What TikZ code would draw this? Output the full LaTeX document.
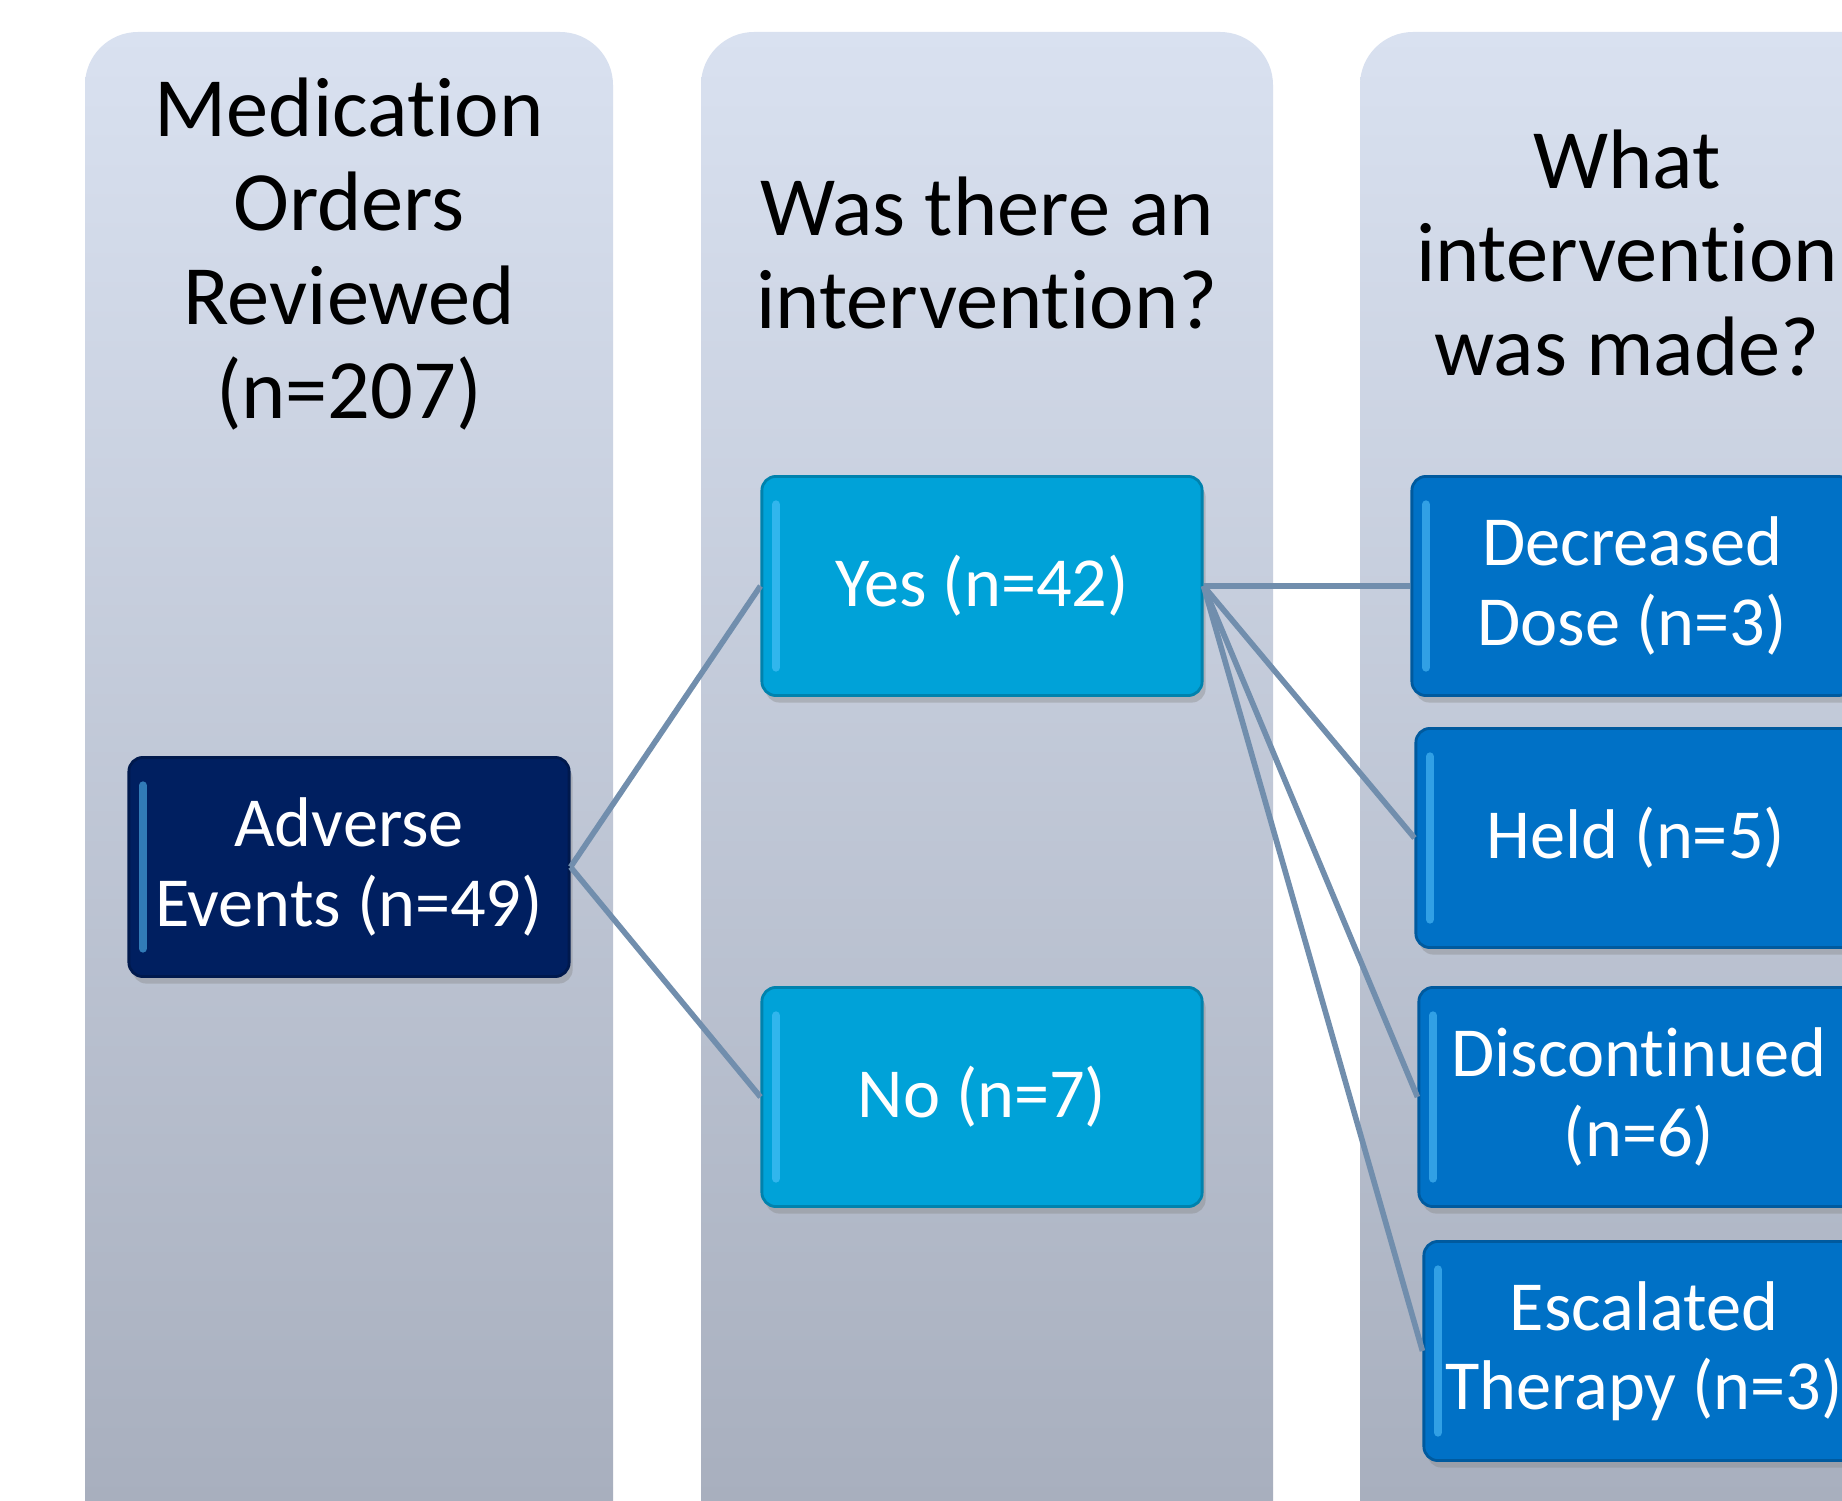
\documentclass[tikz,border=0pt]{standalone}
\usepackage{fontspec}
\setmainfont{Carlito}[Ligatures=NoCommon]
\usetikzlibrary{positioning,shadows}

\definecolor{colTop}{RGB}{217,225,240}
\definecolor{colBot}{RGB}{166,173,188}
\definecolor{navyBox}{RGB}{0,31,96}
\definecolor{cyanBox}{RGB}{0,162,216}
\definecolor{blueBox}{RGB}{0,113,198}
\definecolor{linkCol}{RGB}{113,142,173}
\definecolor{glint}{RGB}{90,200,255}

\tikzset{
	column/.style = {top color=colTop, bottom color=colBot, rounded corners=0.53cm},
	head/.style = {align=center, text=black, font=\fontsize{24}{26.7}\selectfont},
	box/.style = {rounded corners=0.14cm, minimum width=4.4cm, minimum height=2.19cm,
		align=center, text=white, font=\fontsize{20}{22.5}\selectfont, line width=0.8pt,
		drop shadow={shadow xshift=1pt, shadow yshift=-2pt, opacity=.35},
		path picture={\draw[line width=2.4pt, line cap=round, glint, opacity=.55]
			([xshift=4pt,yshift=-8pt]path picture bounding box.north west) --
			([xshift=4pt,yshift=8pt]path picture bounding box.south west);}},
	evbox/.style = {box, fill=navyBox, draw=navyBox!80!black},
	yesno/.style = {box, fill=cyanBox, draw=cyanBox!80!black},
	actbox/.style = {box, fill=blueBox, draw=blueBox!80!black},
	link/.style = {draw=linkCol, line width=1.6pt}
}

\begin{document}
\begin{tikzpicture}[x=0.01cm, y=-0.01cm]
	\useasboundingbox (0,0) rectangle (1842,1501);
	\clip (0,0) rectangle (1842,1501);
	\fill[white] (0,0) rectangle (1842,1501);

	%Spalten
	\shade[column] (85,32) rectangle (613,1560);
	\shade[column] (701,32) rectangle (1273,1560);
	\shade[column] (1360,32) rectangle (1932,1560);

	%Ueberschriften
	\node[head] (h1) at (349,254) {Medication\\Orders\\Reviewed\\(n=207)};
	\node[head] (h2) at (987,253) {Was there an\\intervention?};
	\node[head] (h3) at (1627,253) {What\\intervention\\was made?};

	%Kaesten
	\node[evbox] (ae) at (349,867) {Adverse\\Events (n=49)};
	\node[yesno] (yes) at (982,586) {Yes (n=42)};
	\node[yesno] (no) at (982,1097) {No (n=7)};
	\node[actbox] (dec) at (1632,586) {Decreased\\Dose (n=3)};
	\node[actbox] (held) at (1636,838) {Held (n=5)};
	\node[actbox] (disc) at (1639,1097) {Discontinued\\(n=6)};
	\node[actbox] (esc) at (1644,1351) {Escalated\\Therapy (n=3)};

	%Verbindungen
	\draw[link] (ae.east) -- (yes.west);
	\draw[link] (ae.east) -- (no.west);
	\draw[link] (yes.east) -- (dec.west);
	\draw[link] (yes.east) -- (held.west);
	\draw[link] (yes.east) -- (disc.west);
	\draw[link] (yes.east) -- (esc.west);
\end{tikzpicture}
\end{document}
